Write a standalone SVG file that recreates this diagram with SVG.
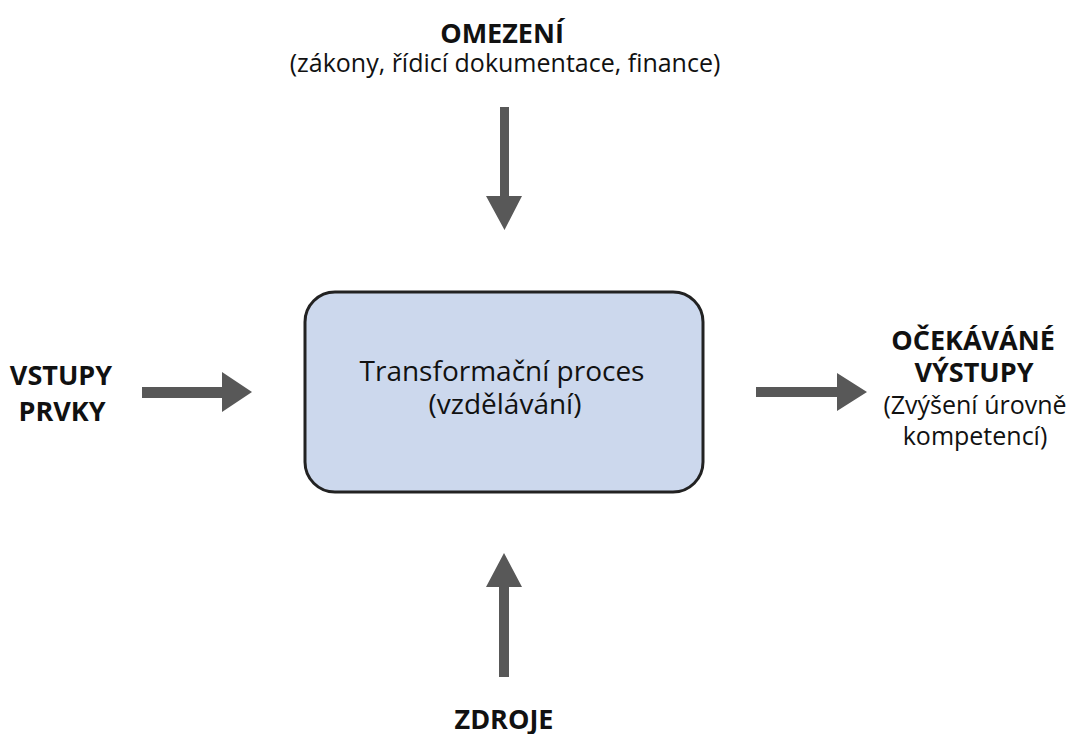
<svg xmlns="http://www.w3.org/2000/svg" width="1068" height="734" viewBox="0 0 1068 734">
  <style>
    .lbl { font-family: "Open Sans", "Noto Sans", "DejaVu Sans", sans-serif; fill: #111; text-anchor: middle; }
    .b { font-weight: 700; font-size: 27px; }
    .r { font-weight: 400; font-size: 25px; }
    .box-t { font-weight: 400; font-size: 28px; }
    .arrow { fill: #585858; }
  </style>
  <rect width="1068" height="734" fill="#ffffff"/>

  <g id="connectors">
    <!-- top: constraints into the process -->
    <polygon class="arrow" points="500,107 509,107 509,196 522,196 504.5,230 486,196 500,196"/>
    <!-- left: inputs -->
    <polygon class="arrow" points="142,387 222,387 222,372 252,392 222,412 222,398 142,398"/>
    <!-- right: outputs -->
    <polygon class="arrow" points="756,387 837,387 837,373 867,392 837,411 837,397 756,397"/>
    <!-- bottom: resources -->
    <polygon class="arrow" points="499,677 509,677 509,587 522,587 504,553 486,587 499,587"/>
  </g>

  <g id="process">
    <rect x="305" y="292" width="398" height="200" rx="30" ry="30" fill="#ccd8ed" stroke="#222" stroke-width="3"/>
    <text class="lbl box-t" x="502" y="381">Transformační proces</text>
    <text class="lbl box-t" x="505" y="414">(vzdělávání)</text>
  </g>

  <g id="constraints">
    <text class="lbl b" x="502" y="43">OMEZENÍ</text>
    <text class="lbl r" x="505" y="72">(zákony, řídicí dokumentace, finance)</text>
  </g>

  <g id="inputs">
    <text class="lbl b" x="61" y="385">VSTUPY</text>
    <text class="lbl b" x="62" y="421">PRVKY</text>
  </g>

  <g id="outputs">
    <text class="lbl b" x="973" y="350">OČEKÁVÁNÉ</text>
    <text class="lbl b" x="974" y="382">VÝSTUPY</text>
    <text class="lbl r" x="975" y="414">(Zvýšení úrovně</text>
    <text class="lbl r" x="975" y="445">kompetencí)</text>
  </g>

  <g id="resources">
    <text class="lbl b" x="504" y="729">ZDROJE</text>
  </g>
</svg>
